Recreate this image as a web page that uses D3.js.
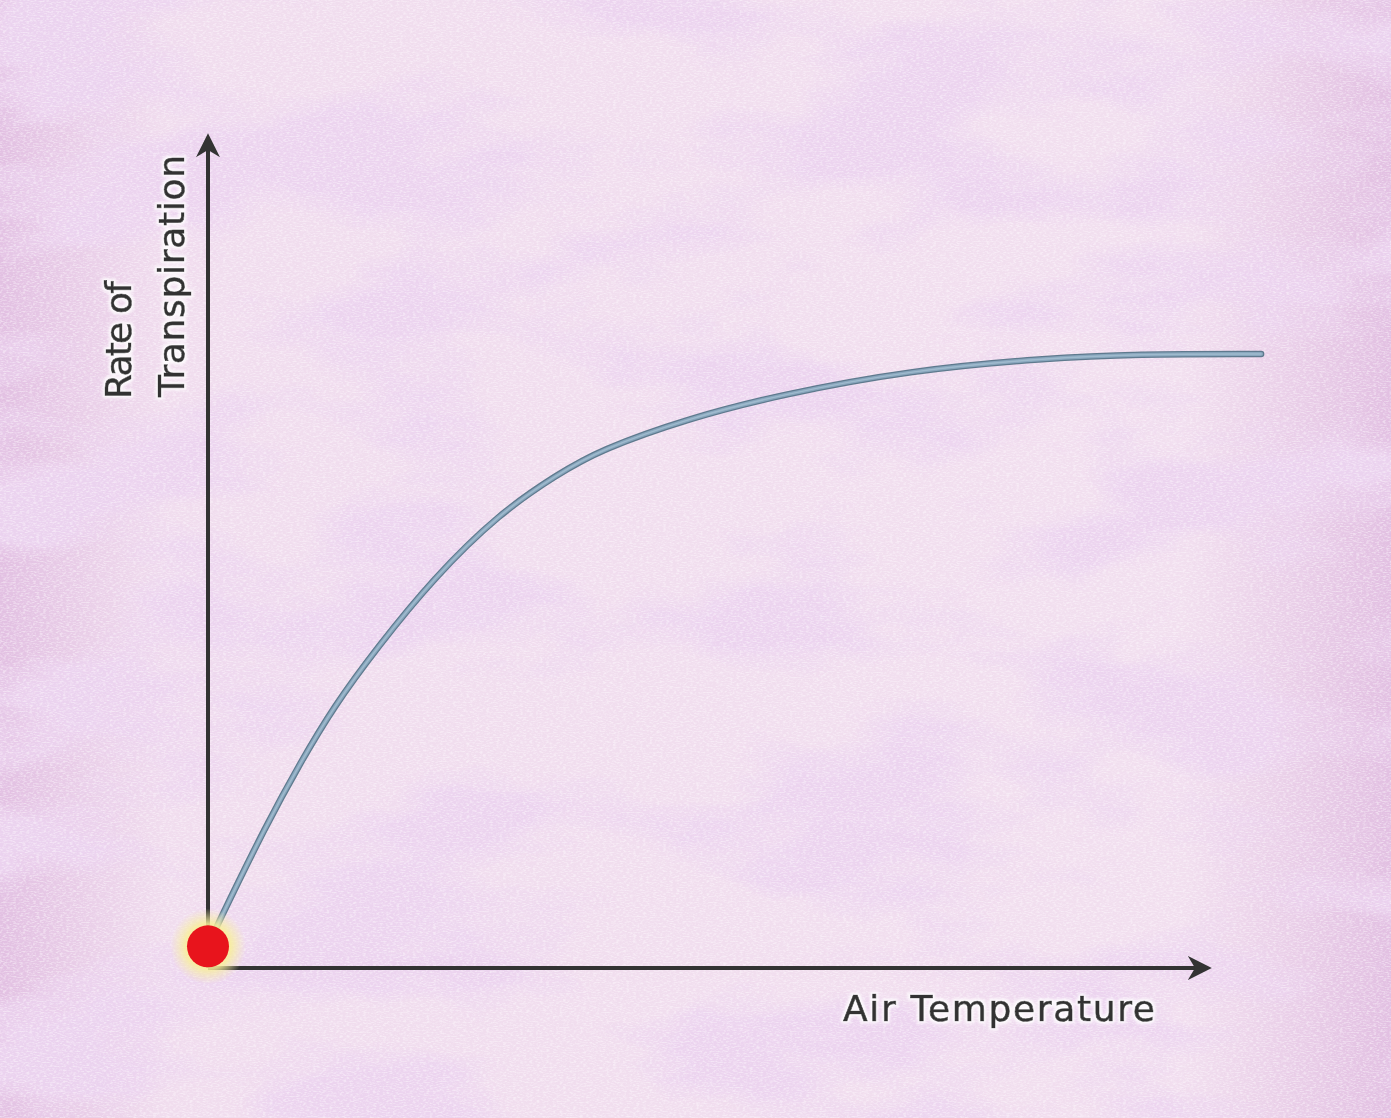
<!DOCTYPE html>
<html><head><meta charset="utf-8">
<script src="https://cdn.jsdelivr.net/npm/d3@7"></script>
<style>html,body{margin:0;padding:0;background:#f0dcee;}svg{display:block;}</style>
</head><body>
<script>
// Data (abstract units)
const curveX = [0, 0.7, 5.9, 9.2, 12.5, 16.9, 22.5, 29.1, 34.8, 39.1, 48.0, 57.0, 70.3, 83.6, 92.6, 105.1];
const curveY = [2.6, 4.6, 17.4, 24.6, 31.3, 38.5, 46.8, 54.6, 59.2, 62.2, 66.0, 68.8, 71.8, 73.2, 73.7, 73.7];
const xLabel = "Air Temperature";
const yLabelLines = ["Rate of", "Transpiration"];
const originPoint = [0, 2.6];

const W = 1391, H = 1118;
const svg = d3.select("body").append("svg").attr("width", W).attr("height", H);
const defs = svg.append("defs");

// background texture
const turb = defs.append("filter").attr("id","tex").attr("x",0).attr("y",0).attr("width","100%").attr("height","100%");
turb.append("feTurbulence").attr("type","fractalNoise").attr("baseFrequency","0.004 0.009").attr("numOctaves",5).attr("seed",11).attr("result","n");
turb.append("feColorMatrix").attr("in","n").attr("type","matrix")
  .attr("values","0 0 0 0 0.84  0 0 0 0 0.66  0 0 0 0 0.87  4.6 0 0 0 -2.05").attr("result","c");
const fine = defs.append("filter").attr("id","fine").attr("x",0).attr("y",0).attr("width","100%").attr("height","100%");
fine.append("feTurbulence").attr("type","fractalNoise").attr("baseFrequency","0.3 0.8").attr("numOctaves",2).attr("seed",3).attr("result","n");
fine.append("feColorMatrix").attr("in","n").attr("type","matrix")
  .attr("values","0 0 0 0 1  0 0 0 0 0.97  0 0 0 0 1  3 0 0 0 -1.3");

svg.append("rect").attr("width",W).attr("height",H).attr("fill","#f4e4f1");
const eg = defs.append("linearGradient").attr("id","edge").attr("x1","0").attr("x2","1");
eg.append("stop").attr("offset","0").attr("stop-color","#dcb4dd").attr("stop-opacity",0.75);
eg.append("stop").attr("offset","0.12").attr("stop-color","#dcb4dd").attr("stop-opacity",0.15);
eg.append("stop").attr("offset","0.85").attr("stop-color","#dcb4dd").attr("stop-opacity",0.1);
eg.append("stop").attr("offset","1").attr("stop-color","#dcb4dd").attr("stop-opacity",0.75);
svg.append("rect").attr("width",W).attr("height",H).attr("fill","url(#edge)");
svg.append("rect").attr("width",W).attr("height",H).attr("filter","url(#tex)").attr("opacity",0.95);
svg.append("rect").attr("width",W).attr("height",H).attr("filter","url(#fine)").attr("opacity",0.45);

// scales
const x = d3.scaleLinear().domain([0, 100]).range([208, 1210]);
const y = d3.scaleLinear().domain([0, 100]).range([968, 135]);

// halo filter for text
const halo = defs.append("filter").attr("id","halo").attr("x","-10%").attr("y","-30%").attr("width","120%").attr("height","160%");
halo.append("feMorphology").attr("in","SourceAlpha").attr("operator","dilate").attr("radius",2).attr("result","d");
halo.append("feGaussianBlur").attr("in","d").attr("stdDeviation",1.5).attr("result","b");
halo.append("feFlood").attr("flood-color","#ffffff").attr("flood-opacity",0.9);
halo.append("feComposite").attr("in2","b").attr("operator","in").attr("result","h");
const hm = halo.append("feMerge");
hm.append("feMergeNode").attr("in","h");
hm.append("feMergeNode").attr("in","SourceGraphic");

// arrow marker
defs.append("marker").attr("id","arr").attr("viewBox","0 0 10 10").attr("refX",8).attr("refY",5)
  .attr("markerWidth",6).attr("markerHeight",6).attr("orient","auto-start-reverse").attr("markerUnits","strokeWidth")
  .append("path").attr("d","M0,0 L10,5 L0,10 L3,5 Z").attr("fill","#333333");

// axes
svg.append("line").attr("x1",x(0)).attr("y1",y(0)).attr("x2",x(0)).attr("y2",y(100)+3)
  .attr("stroke","#333333").attr("stroke-width",4).attr("marker-end","url(#arr)");
svg.append("line").attr("x1",x(0)).attr("y1",y(0)).attr("x2",x(100)-3).attr("y2",y(0))
  .attr("stroke","#333333").attr("stroke-width",4).attr("marker-end","url(#arr)");

// curve
const pts = curveX.map((d,i)=>[d, curveY[i]]);
const line = d3.line().x(d=>x(d[0])).y(d=>y(d[1])).curve(d3.curveBasis);
svg.append("path").datum(pts).attr("d",line).attr("fill","none").attr("stroke","#5f7a8e").attr("stroke-width",6.5).attr("stroke-linecap","round");
svg.append("path").datum(pts).attr("d",line).attr("fill","none").attr("stroke","#88a6bd").attr("stroke-width",4).attr("stroke-linecap","round");
svg.append("path").datum(pts).attr("d",line).attr("fill","none").attr("stroke","#a9c3d4").attr("stroke-width",1.5).attr("stroke-linecap","round").attr("opacity",0.7);

// origin dot with glow
const gg = defs.append("radialGradient").attr("id","glow");
gg.append("stop").attr("offset","0%").attr("stop-color","#fff27a").attr("stop-opacity",1);
gg.append("stop").attr("offset","60%").attr("stop-color","#f8ef9a").attr("stop-opacity",0.85);
gg.append("stop").attr("offset","100%").attr("stop-color","#f6eeb0").attr("stop-opacity",0);
svg.append("circle").attr("cx",x(originPoint[0])).attr("cy",y(originPoint[1])).attr("r",38).attr("fill","url(#glow)");
svg.append("circle").attr("cx",x(originPoint[0])).attr("cy",y(originPoint[1])).attr("r",21).attr("fill","#e8141c");

// labels
const fontFam = "DejaVu Sans, Verdana, sans-serif";
svg.append("text").attr("x",843).attr("y",1021).attr("font-family",fontFam)
  .attr("font-size",36).attr("fill","#333333").attr("stroke","#333333").attr("stroke-width",0.7)
  .attr("textLength",312).attr("lengthAdjust","spacing").attr("filter","url(#halo)").text(xLabel);
const ylab = svg.append("g").attr("transform","translate(0,399) rotate(-90)").attr("filter","url(#halo)");
ylab.append("text").attr("x",0).attr("y",131).attr("font-family",fontFam).attr("font-size",36)
  .attr("fill","#333333").attr("stroke","#333333").attr("stroke-width",0.7)
  .attr("textLength",118).attr("lengthAdjust","spacing").text(yLabelLines[0]);
ylab.append("text").attr("x",2).attr("y",184).attr("font-family",fontFam).attr("font-size",36)
  .attr("fill","#333333").attr("stroke","#333333").attr("stroke-width",0.7)
  .attr("textLength",242).attr("lengthAdjust","spacing").text(yLabelLines[1]);
</script>
</body></html>
